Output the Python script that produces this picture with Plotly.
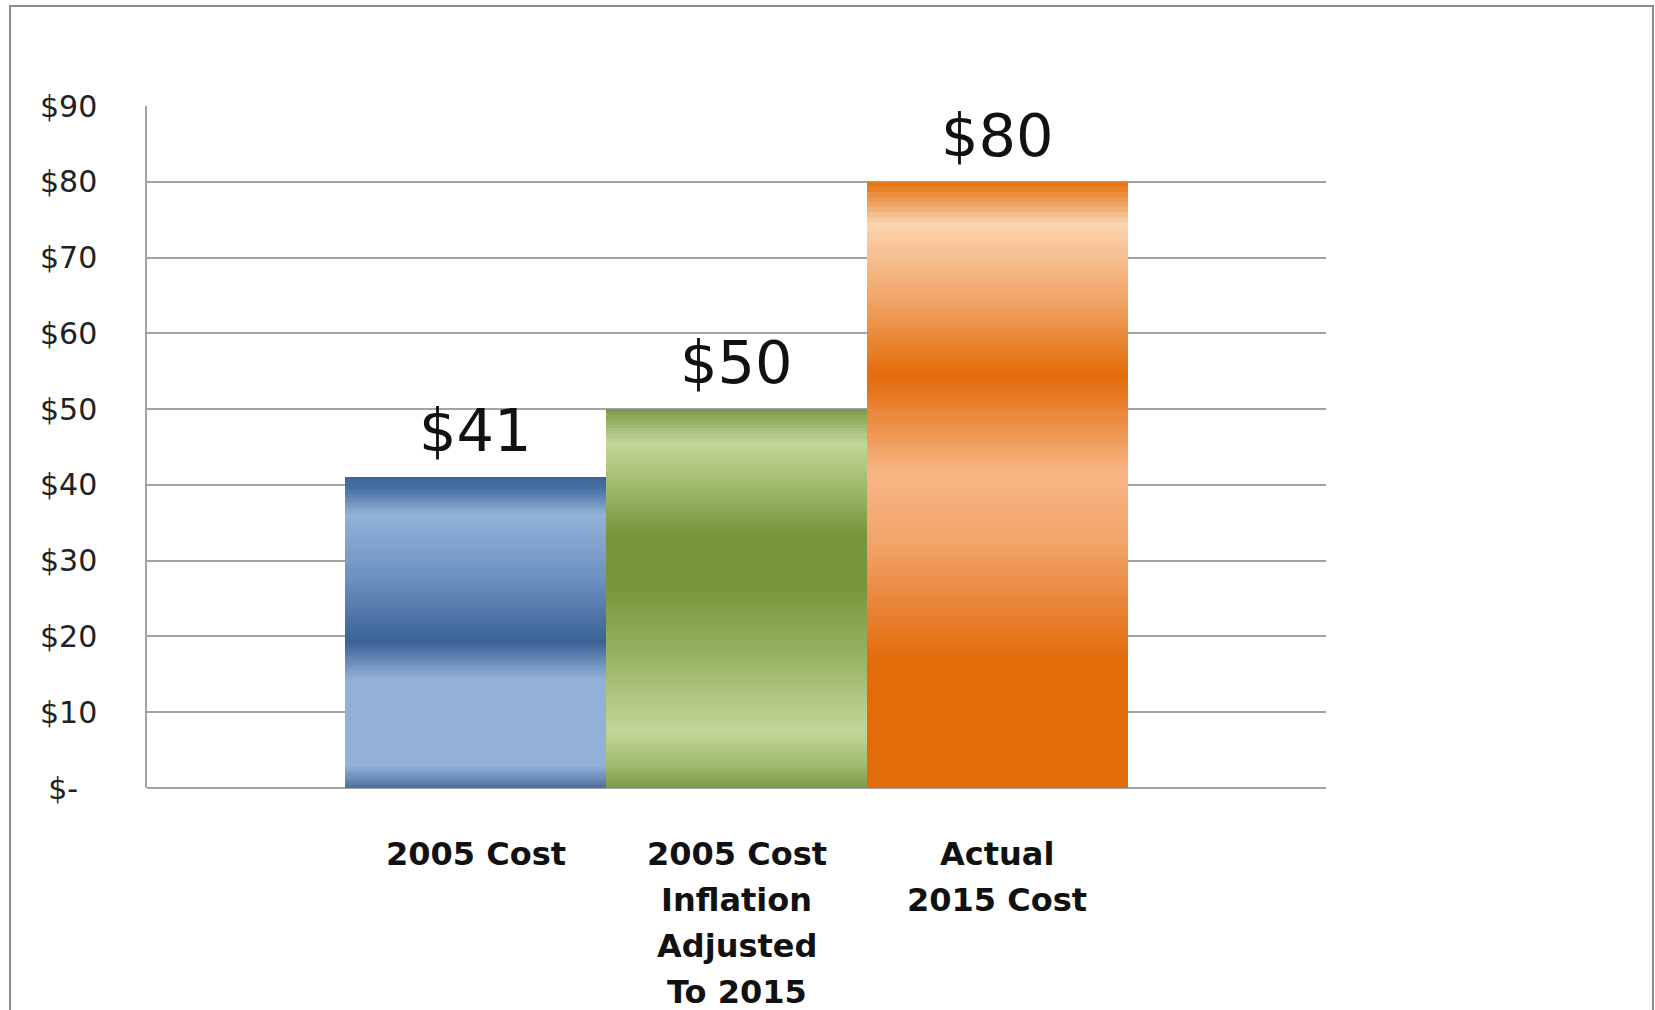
import plotly.graph_objects as go

# ---------------- data ----------------
category_lines = [
    ["2005 Cost"],
    ["2005 Cost", "Inflation", "Adjusted", "To 2015"],
    ["Actual", "2015 Cost"],
]
categories = [" ".join(lines) for lines in category_lines]
values = [41, 50, 80]
value_labels = ["$41", "$50", "$80"]
y_tickvals = [0, 10, 20, 30, 40, 50, 60, 70, 80, 90]
y_ticktext = ["$-&nbsp;&nbsp;", "$10", "$20", "$30", "$40", "$50", "$60", "$70", "$80", "$90"]

# ---------------- style: banded gradient profiles (fraction from top, colour) ----------------
gradients = [
    [(0.00, "#3d6598"), (0.04, "#4a72a6"), (0.12, "#93b1d8"), (0.32, "#6e92c1"),
     (0.53, "#3a6296"), (0.65, "#93b1d8"), (0.93, "#93b1d8"), (1.00, "#4a6f9f")],
    [(0.00, "#7a9a48"), (0.09, "#c2d699"), (0.18, "#a8c076"), (0.33, "#77963c"),
     (0.47, "#77963c"), (0.64, "#96b060"), (0.85, "#c2d699"), (0.94, "#a0ba6c"), (1.00, "#7a9a48")],
    [(0.00, "#e3700f"), (0.07, "#fbd3b0"), (0.19, "#f1a668"), (0.32, "#e36c0a"),
     (0.39, "#ec8a40"), (0.48, "#f8b585"), (0.59, "#f2a66c"), (0.67, "#ec8c46"),
     (0.79, "#e36c0a"), (1.00, "#e36c0a")],
]


def hex2rgb(h):
    h = h.lstrip("#")
    return tuple(int(h[i:i + 2], 16) for i in (0, 2, 4))


def interp(profile, t):
    for (t0, c0), (t1, c1) in zip(profile[:-1], profile[1:]):
        if t0 <= t <= t1:
            f = 0 if t1 == t0 else (t - t0) / (t1 - t0)
            a, b = hex2rgb(c0), hex2rgb(c1)
            r = [round(a[i] + (b[i] - a[i]) * f) for i in range(3)]
            return "rgb(%d,%d,%d)" % tuple(r)
    return profile[-1][1]


N = 120
fig = go.Figure()
for k in range(N):
    t = 1 - (k + 0.5) / N  # fraction from top of bar
    cols = [interp(g, t) for g in gradients]
    fig.add_trace(go.Bar(
        x=categories, y=[v / N for v in values],
        marker=dict(color=cols, line=dict(width=0)),
        hoverinfo="skip", showlegend=False,
    ))

# value labels
for c, v, lab in zip(categories, values, value_labels):
    fig.add_annotation(x=c, y=v, text=lab, showarrow=False, xref="x", yref="y",
                       yanchor="bottom", yshift=10,
                       font=dict(family="DejaVu Sans", size=59, color="#111111"))

# category labels (multi-line, bold)
line_step = 46
for c, lines in zip(categories, category_lines):
    for i, ln in enumerate(lines):
        fig.add_annotation(x=c, y=0, text="<b>%s</b>" % ln, showarrow=False, xref="x", yref="y",
                           yanchor="middle", yshift=-(66 + i * line_step),
                           font=dict(family="DejaVu Sans", size=32, color="#111111"))

# outer frame
fig.add_shape(type="rect", xref="paper", yref="paper",
              x0=(10 - 147) / 1179, x1=(1653 - 147) / 1179,
              y0=(788 - 1030) / 682, y1=(788 - 6) / 682,
              line=dict(color="#8c8c8c", width=2), fillcolor="rgba(0,0,0,0)", layer="below")

fig.update_layout(
    width=1655, height=1010,
    margin=dict(l=147, r=329, t=106, b=222),
    barmode="stack", bargap=0,
    paper_bgcolor="white", plot_bgcolor="white",
    showlegend=False,
    xaxis=dict(type="category", range=[-1.259, 3.259], showticklabels=False,
               showgrid=False, zeroline=False, showline=False, fixedrange=True),
    yaxis=dict(range=[0, 90], tickvals=y_tickvals, ticktext=y_ticktext,
               showgrid=True, gridcolor="#a3a3a3", gridwidth=1.5,
               showline=True, linecolor="#a3a3a3", linewidth=1.5,
               zeroline=True, zerolinecolor="#a3a3a3", zerolinewidth=1.5,
               ticks="", ticklabelstandoff=42,
               tickfont=dict(family="DejaVu Sans", size=30, color="#222222")),
)

fig.write_html("out.html", config={"displayModeBar": False},
               post_script="document.body.style.margin='0';document.body.style.padding='0';document.body.style.overflow='hidden';")
